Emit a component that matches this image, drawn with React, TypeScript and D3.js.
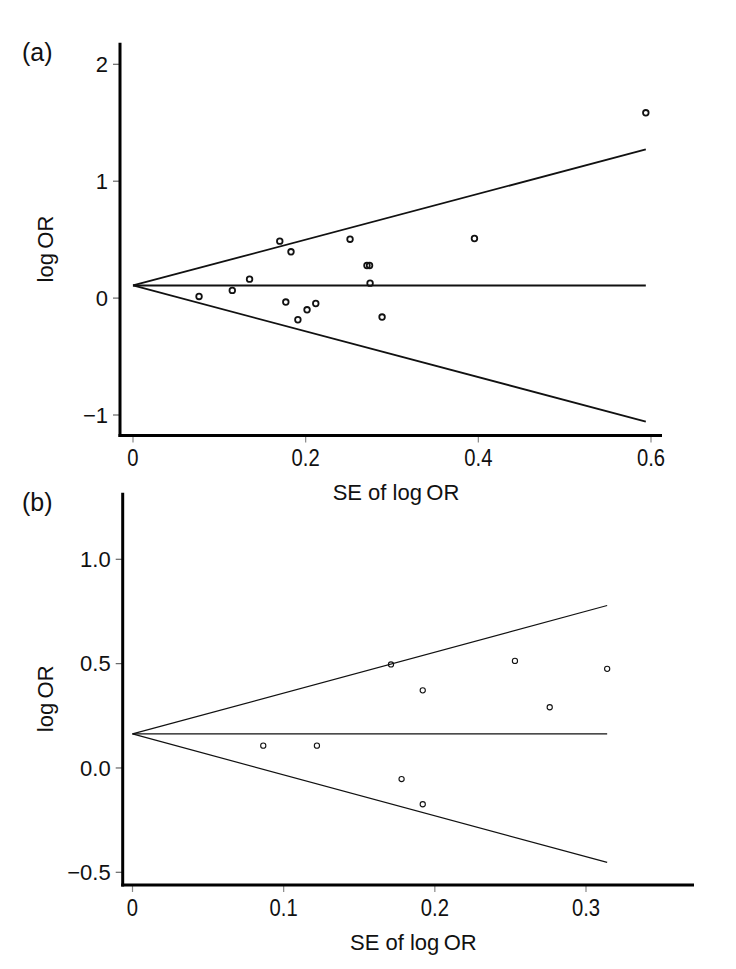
import React from "react";
import * as d3 from "d3";

// ---------- Data: panel (a) ----------
const seA = [0.0765, 0.115, 0.135, 0.170, 0.177, 0.183, 0.191, 0.2016, 0.2117, 0.2514, 0.271, 0.274, 0.2746, 0.2885, 0.3955, 0.594];
const logOrA = [0.014, 0.066, 0.162, 0.487, -0.034, 0.396, -0.185, -0.10, -0.046, 0.504, 0.279, 0.279, 0.128, -0.162, 0.51, 1.585];
const pooledA = 0.108;
const xTicksA = [0, 0.2, 0.4, 0.6];
const xTickLabelsA = ["0", "0.2", "0.4", "0.6"];
const yTicksA = [-1, 0, 1, 2];
const yTickLabelsA = ["\u22121", "0", "1", "2"];

// ---------- Data: panel (b) ----------
const seB = [0.0865, 0.122, 0.171, 0.178, 0.192, 0.192, 0.253, 0.276, 0.314];
const logOrB = [0.107, 0.107, 0.496, -0.053, 0.372, -0.174, 0.513, 0.291, 0.475];
const pooledB = 0.163;
const xTicksB = [0, 0.1, 0.2, 0.3];
const xTickLabelsB = ["0", "0.1", "0.2", "0.3"];
const yTicksB = [-0.5, 0, 0.5, 1.0];
const yTickLabelsB = ["\u22120.5", "0.0", "0.5", "1.0"];

const xTitle = "SE of log\u2009OR";
const yTitle = "log\u2009OR";

const FONT = "'Liberation Sans', Arial, sans-serif";

type PanelProps = {
  tag: string;
  se: number[];
  lor: number[];
  pooled: number;
  xTicks: number[];
  xTickLabels: string[];
  yTicks: number[];
  yTickLabels: string[];
  xDomain: [number, number];
  xRange: [number, number];
  yDomain: [number, number];
  yRange: [number, number];
  axisX: number;
  axisY: number;
  axisTop: number;
  axisRight: number;
  tagY: number;
  xTitleY: number;
  lineW: number;
  r: number;
  pointW: number;
};

function Panel(p: PanelProps) {
  const x = d3.scaleLinear().domain(p.xDomain).range(p.xRange);
  const y = d3.scaleLinear().domain(p.yDomain).range(p.yRange);
  const seMax = d3.max(p.se) as number;
  const upper = p.pooled + 1.96 * seMax;
  const lower = p.pooled - 1.96 * seMax;
  const line = d3.line<[number, number]>().x((d) => x(d[0])).y((d) => y(d[1]));
  const xMid = (p.axisX + p.axisRight) / 2 + 5;
  const yMid = (p.axisTop + p.axisY) / 2 + 10;
  return (
    <g>
      <text x={22} y={p.tagY} fontSize={25} fontFamily={FONT} fill="#111">{p.tag}</text>
      {/* funnel */}
      <path d={line([[0, p.pooled], [seMax, upper]]) || ""} stroke="#111" strokeWidth={p.lineW} fill="none" />
      <path d={line([[0, p.pooled], [seMax, lower]]) || ""} stroke="#111" strokeWidth={p.lineW} fill="none" />
      <path d={line([[0, p.pooled], [seMax, p.pooled]]) || ""} stroke="#111" strokeWidth={p.lineW} fill="none" />
      {/* points */}
      {p.se.map((s, i) => (
        <circle key={i} cx={x(s)} cy={y(p.lor[i])} r={p.r} fill="none" stroke="#111" strokeWidth={p.pointW} />
      ))}
      {/* y ticks */}
      {p.yTicks.map((t, i) => (
        <g key={"y" + i}>
          <line x1={p.axisX - 7} x2={p.axisX} y1={y(t)} y2={y(t)} stroke="#666" strokeWidth={1.2} />
          <text x={p.axisX - 12} y={y(t)} dy="0.35em" textAnchor="end" fontSize={22} fontFamily={FONT} fill="#111">{p.yTickLabels[i]}</text>
        </g>
      ))}
      {/* x ticks */}
      {p.xTicks.map((t, i) => (
        <g key={"x" + i}>
          <line x1={x(t)} x2={x(t)} y1={p.axisY} y2={p.axisY + 7} stroke="#888" strokeWidth={1.2} />
          <text x={x(t)} y={p.axisY + 31} textAnchor="middle" fontSize={22} fontFamily={FONT} fill="#111"
            transform={`translate(${x(t)},${p.axisY + 31}) scale(0.92,1.08) translate(${-x(t)},${-(p.axisY + 31)})`}>{p.xTickLabels[i]}</text>
        </g>
      ))}
      {/* axes */}
      <line x1={p.axisX} x2={p.axisX} y1={p.axisTop} y2={p.axisY + 1.5} stroke="#000" strokeWidth={3} />
      <line x1={p.axisX - 1.5} x2={p.axisRight} y1={p.axisY} y2={p.axisY} stroke="#000" strokeWidth={3} />
      {/* titles */}
      <text x={xMid} y={p.xTitleY} textAnchor="middle" fontSize={22} fontFamily={FONT} fill="#111">{xTitle}</text>
      <text transform={`translate(53,${yMid}) rotate(-90)`} textAnchor="middle" fontSize={22} fontFamily={FONT} fill="#111">{yTitle}</text>
    </g>
  );
}

export default function App() {
  return (
    <svg width={736} height={969} style={{ position: "absolute", left: 0, top: 0, background: "#fff" }}>
      <rect width={736} height={969} fill="#fff" />
      <Panel
        tag="(a)" se={seA} lor={logOrA} pooled={pooledA}
        xTicks={xTicksA} xTickLabels={xTickLabelsA} yTicks={yTicksA} yTickLabels={yTickLabelsA}
        xDomain={[0, 0.6]} xRange={[133, 651]} yDomain={[-1, 2]} yRange={[415, 64.3]}
        axisX={120} axisY={435.5} axisTop={42.7} axisRight={662}
        tagY={61} xTitleY={500} lineW={1.8} r={2.8} pointW={1.8}
      />
      <Panel
        tag="(b)" se={seB} lor={logOrB} pooled={pooledB}
        xTicks={xTicksB} xTickLabels={xTickLabelsB} yTicks={yTicksB} yTickLabels={yTickLabelsB}
        xDomain={[0, 0.3]} xRange={[132.5, 586]} yDomain={[-0.5, 1.0]} yRange={[872.3, 559.3]}
        axisX={122.7} axisY={885} axisTop={492.7} axisRight={694}
        tagY={511} xTitleY={950} lineW={1.2} r={2.6} pointW={1.1}
      />
    </svg>
  );
}
